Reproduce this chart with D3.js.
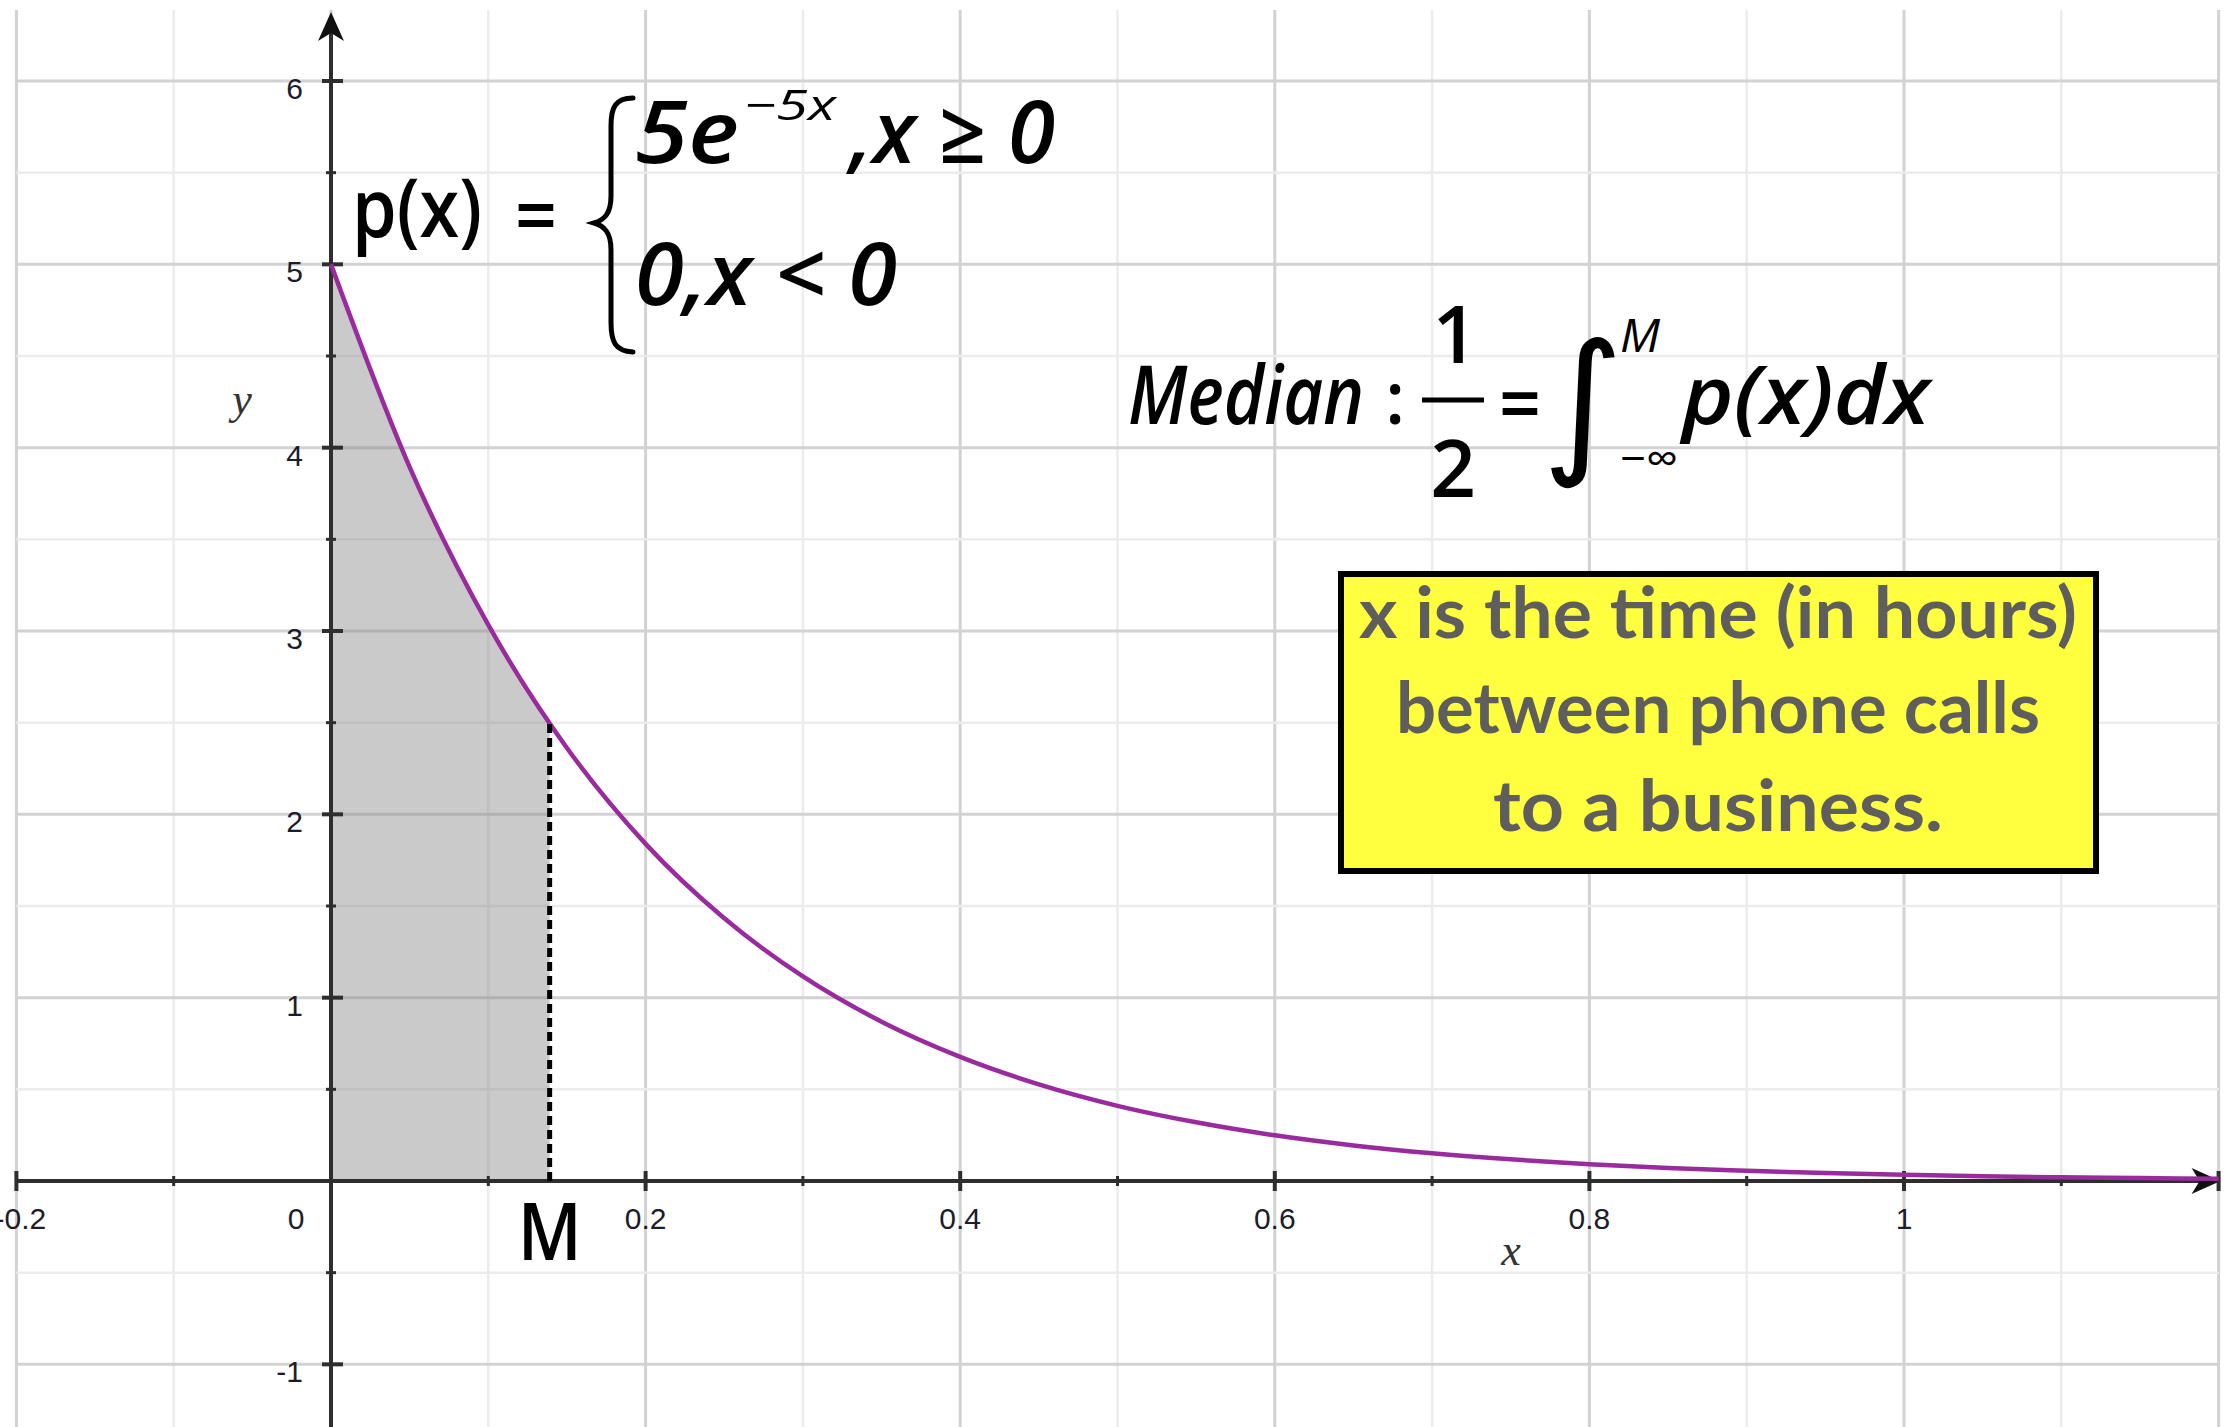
<!DOCTYPE html>
<html>
<head>
<meta charset="utf-8">
<script src="https://cdn.jsdelivr.net/npm/d3@7"></script>
<style>
  html, body { margin: 0; padding: 0; background: #ffffff; }
  svg { display: block; }
</style>
</head>
<body>
<svg id="chart" width="2228" height="1427"></svg>
<script>
// Density p(x) = 5e^(-5x), sampled along the x axis
const curveX = [0, 0.05, 0.10, 0.15, 0.20, 0.25, 0.30, 0.35, 0.40, 0.45, 0.50, 0.55, 0.60,
                0.65, 0.70, 0.75, 0.80, 0.85, 0.90, 0.95, 1.00, 1.05, 1.10, 1.15, 1.20];
const curveY = [5.000, 3.894, 3.033, 2.362, 1.839, 1.433, 1.116, 0.869, 0.677, 0.527, 0.410, 0.320, 0.249,
                0.194, 0.151, 0.118, 0.092, 0.071, 0.056, 0.043, 0.034, 0.026, 0.020, 0.016, 0.012];

// Median M and the density value there
const medianX = 0.139;
const medianY = 2.5;

// Axis tick labels
const xTickValues = [-0.2, 0.2, 0.4, 0.6, 0.8, 1];
const xTickLabels = ["-0.2", "0.2", "0.4", "0.6", "0.8", "1"];
const yTickValues = [-1, 1, 2, 3, 4, 5, 6];
const yTickLabels = ["-1", "1", "2", "3", "4", "5", "6"];

// Grid spacing
const gridXValues = d3.range(-2, 13).map(i => i / 10);
const gridYValues = d3.range(-3, 13).map(i => i / 2);

const svg = d3.select("#chart");

const x = d3.scaleLinear().domain([0, 1]).range([331, 1904]);
const y = d3.scaleLinear().domain([0, 6]).range([1181, 81]);

const xMin = -0.2, xMax = 1.2;
const yTop = y.invert(10), yBottom = y.invert(1427);

// ---------- grid ----------
const isMajorX = v => Math.abs(Math.round(v * 10)) % 2 === 0;
const isMajorY = v => Number.isInteger(v);

const grid = svg.append("g");
grid.selectAll("line.gx").data(gridXValues).join("line")
  .attr("x1", d => x(d)).attr("x2", d => x(d))
  .attr("y1", y(yTop)).attr("y2", y(yBottom))
  .attr("stroke", d => isMajorX(d) ? "#d2d2d2" : "#ececec")
  .attr("stroke-width", d => isMajorX(d) ? 3 : 2.5);
grid.selectAll("line.gy").data(gridYValues).join("line")
  .attr("y1", d => y(d)).attr("y2", d => y(d))
  .attr("x1", x(xMin)).attr("x2", x(xMax))
  .attr("stroke", d => isMajorY(d) ? "#d2d2d2" : "#ececec")
  .attr("stroke-width", d => isMajorY(d) ? 3 : 2.5);

// ---------- shaded area 0..M ----------
const pts = curveX.map((v, i) => [v, curveY[i]]);
const shadePts = pts.filter(p => p[0] < medianX).concat([[medianX, medianY]]);
svg.append("path")
  .datum(shadePts)
  .attr("d", d3.area().x(d => x(d[0])).y0(y(0)).y1(d => y(d[1])).curve(d3.curveMonotoneX))
  .attr("fill", "#8a8a8a")
  .attr("fill-opacity", 0.45);

// ---------- axes ----------
const axisColor = "#2e2e2e";
const ax = svg.append("g");
ax.append("line")
  .attr("x1", x(xMin)).attr("x2", x(xMax) - 6)
  .attr("y1", y(0)).attr("y2", y(0))
  .attr("stroke", axisColor).attr("stroke-width", 4);
ax.append("line")
  .attr("x1", x(0)).attr("x2", x(0))
  .attr("y1", y(yBottom)).attr("y2", y(yTop) + 8)
  .attr("stroke", axisColor).attr("stroke-width", 4);

// arrowheads
const ex = x(xMax) + 2, ey = y(0);
ax.append("path")
  .attr("d", `M${ex},${ey} L${ex - 29},${ey - 13} L${ex - 21},${ey} L${ex - 29},${ey + 13} Z`)
  .attr("fill", "#111");
const tx = x(0), ty = y(yTop) + 2;
ax.append("path")
  .attr("d", `M${tx},${ty} L${tx - 13},${ty + 29} L${tx},${ty + 21} L${tx + 13},${ty + 29} Z`)
  .attr("fill", "#111");

// x ticks: major every 0.2, minor every 0.1
ax.selectAll("line.xt").data(gridXValues.filter(v => v !== 0)).join("line")
  .attr("x1", d => x(d)).attr("x2", d => x(d))
  .attr("y1", d => y(0) - (isMajorX(d) ? 10 : 5))
  .attr("y2", d => y(0) + (isMajorX(d) ? 10 : 5))
  .attr("stroke", axisColor).attr("stroke-width", d => isMajorX(d) ? 4 : 3);
// y ticks: major every 1, minor every 0.5
ax.selectAll("line.yt").data(gridYValues.filter(v => v !== 0 && v <= 6)).join("line")
  .attr("y1", d => y(d)).attr("y2", d => y(d))
  .attr("x1", d => x(0) - (isMajorY(d) ? 9 : 5))
  .attr("x2", d => x(0) + (isMajorY(d) ? 12 : 5))
  .attr("stroke", axisColor).attr("stroke-width", d => isMajorY(d) ? 4 : 3);

const tickFont = "'Liberation Sans', Arial, sans-serif";
const tickSize = 30;
ax.selectAll("text.xl").data(xTickValues).join("text")
  .attr("x", d => x(d) + (d < 0 ? 4 : 0)).attr("y", y(0) + 48)
  .attr("text-anchor", "middle")
  .attr("font-family", tickFont).attr("font-size", tickSize)
  .attr("fill", "#1c1c2c")
  .text((d, i) => xTickLabels[i]);
ax.append("text")
  .attr("x", x(0) - 35).attr("y", y(0) + 48)
  .attr("text-anchor", "middle")
  .attr("font-family", tickFont).attr("font-size", tickSize)
  .attr("fill", "#1c1c2c")
  .text("0");
ax.selectAll("text.yl").data(yTickValues).join("text")
  .attr("x", x(0) - 28).attr("y", d => y(d) + 18)
  .attr("text-anchor", "end")
  .attr("font-family", tickFont).attr("font-size", tickSize)
  .attr("fill", "#1c1c2c")
  .text((d, i) => yTickLabels[i]);

// axis titles
svg.append("text")
  .attr("x", 1511).attr("y", 1265)
  .attr("text-anchor", "middle")
  .attr("font-family", "'Liberation Serif', 'Times New Roman', serif")
  .attr("font-style", "italic").attr("font-size", 44)
  .attr("fill", "#333").text("x");
svg.append("text")
  .attr("x", 242).attr("y", 414)
  .attr("text-anchor", "middle")
  .attr("font-family", "'Liberation Serif', 'Times New Roman', serif")
  .attr("font-style", "italic").attr("font-size", 44)
  .attr("fill", "#333").text("y");

// ---------- density curve ----------
svg.append("path")
  .datum(pts)
  .attr("d", d3.line().x(d => x(d[0])).y(d => y(d[1])).curve(d3.curveMonotoneX))
  .attr("fill", "none")
  .attr("stroke", "#9a2b9e")
  .attr("stroke-width", 4.5);

// ---------- median marker ----------
svg.append("line")
  .attr("x1", x(medianX)).attr("x2", x(medianX))
  .attr("y1", y(0)).attr("y2", y(medianY))
  .attr("stroke", "#000").attr("stroke-width", 5)
  .attr("stroke-dasharray", "9,5");
svg.append("text")
  .attr("x", x(medianX)).attr("y", 1260)
  .attr("text-anchor", "middle")
  .attr("font-family", "'Open Sans', sans-serif")
  .attr("font-weight", 600).attr("font-size", 80)
  .attr("textLength", 64).attr("lengthAdjust", "spacingAndGlyphs")
  .attr("fill", "#000").text("M");

// ---------- formula: p(x) ----------
const mathFont = "'Open Sans', 'Noto Sans', sans-serif";
function put(txt, px, py, size, len, opts = {}) {
  const t = svg.append("text")
    .attr("x", px).attr("y", py)
    .attr("font-family", opts.family || mathFont)
    .attr("font-size", size)
    .attr("font-weight", opts.weight || 600)
    .attr("font-style", opts.italic ? "italic" : "normal")
    .attr("fill", opts.fill || "#000")
    .attr("text-anchor", opts.anchor || "start")
    .text(txt);
  if (len) t.attr("textLength", len).attr("lengthAdjust", "spacingAndGlyphs");
  return t;
}

put("p(x)", 352, 237, 82, 130);
put("=", 515, 244, 82, 42);
// curly brace
svg.append("path")
  .attr("d", "M633,98 C615,98 611,108 611,126 L611,196 C611,214 604,220 594,223 C604,226 611,232 611,250 L611,322 C611,342 615,351 633,352")
  .attr("fill", "none").attr("stroke", "#000").attr("stroke-width", 5)
  .attr("stroke-linecap", "round");
put("5e", 635, 163, 86, 104, { italic: true });
put("−5x", 744, 120, 42, 92, { italic: true, weight: 500 });
put(",x ≥ 0", 850, 163, 86, 205, { italic: true });
put("0,x < 0", 635, 305, 86, 262, { italic: true });

// ---------- median definition ----------
put("Median", 1128, 424, 82, 236, { italic: true });
put(":", 1395, 424, 72, null, { anchor: "middle" });
put("1", 1455, 363, 80, null, { anchor: "middle" });
svg.append("line")
  .attr("x1", 1422).attr("x2", 1484).attr("y1", 400).attr("y2", 400)
  .attr("stroke", "#000").attr("stroke-width", 5);
put("2", 1453, 497, 80, null, { anchor: "middle" });
put("=", 1499, 432, 80, 42);
put("∫", 1583, 455, 156, null, { anchor: "middle", family: "'DejaVu Sans', sans-serif", weight: 400 });
put("M", 1620, 352, 46, 40, { italic: true, weight: 500 });
put("−∞", 1620, 474, 44, 58, { weight: 500 });
put("p(x)dx", 1682, 424, 82, 248, { italic: true });

// ---------- note box ----------
svg.append("rect")
  .attr("x", 1341).attr("y", 574)
  .attr("width", 755).attr("height", 297)
  .attr("fill", "#ffff40")
  .attr("stroke", "#000").attr("stroke-width", 6);
const noteLines = ["x is the time (in hours)", "between phone calls", "to a business."];
const noteBase = [638, 733, 831];
const noteLen = [718, 644, 450];
noteLines.forEach((line, i) => {
  put(line, 1718, noteBase[i], 70, noteLen[i], { anchor: "middle", family: "Lato, sans-serif", weight: 700, fill: "#5e5e5e" });
});
</script>
</body>
</html>
